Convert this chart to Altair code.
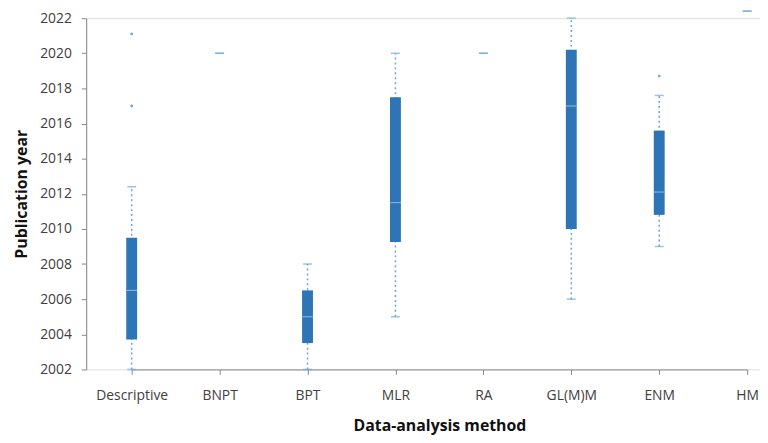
import altair as alt
import pandas as pd

methods = ["Descriptive", "BNPT", "BPT", "MLR", "RA", "GL(M)M", "ENM", "HM"]
whisker_low = [2002.0, 2020.0, 2002.0, 2005.0, 2020.0, 2006.0, 2009.0, 2022.4]
q1 = [2003.7, 2020.0, 2003.5, 2009.25, 2020.0, 2010.0, 2010.8, 2022.4]
median = [2006.5, 2020.0, 2005.0, 2011.5, 2020.0, 2017.0, 2012.1, 2022.4]
q3 = [2009.5, 2020.0, 2006.5, 2017.5, 2020.0, 2020.2, 2015.6, 2022.4]
whisker_high = [2012.4, 2020.0, 2008.0, 2020.0, 2020.0, 2022.0, 2017.6, 2022.4]

outlier_method = ["Descriptive", "Descriptive", "ENM"]
outlier_year = [2021.1, 2017.0, 2018.7]

df = pd.DataFrame({
    "method": methods, "lo": whisker_low, "q1": q1, "med": median,
    "q3": q3, "hi": whisker_high,
})
df["spread"] = df["hi"] - df["lo"]
odf = pd.DataFrame({"method": outlier_method, "year": outlier_year})

FONT = "Open Sans"
BOX = "#2E75B6"
LIGHT = "#6FA8DC"

xenc = alt.X(
    "method:N", sort=methods,
    scale=alt.Scale(type="point", domain=methods, range=[46, 668], padding=0),
    axis=alt.Axis(title="Data-analysis method", labelAngle=0, labelFontSize=14,
                  labelColor="#404040", labelFont=FONT, titleFont=FONT,
                  titleFontSize=16, titleFontWeight="bold", titleColor="#111",
                  titlePadding=16, labelPadding=14, tickSize=5,
                  domainColor="#888", tickColor="#888", grid=False),
)
yscale = alt.Scale(domain=[2002, 2022], nice=False, zero=False)
yaxis = alt.Axis(title="Publication year", values=list(range(2002, 2023, 2)),
                 format="d", labelFontSize=14, labelColor="#404040",
                 labelFont=FONT, titleFont=FONT, titleFontSize=16,
                 titleFontWeight="bold", titleColor="#111", titlePadding=10,
                 labelPadding=10, tickSize=5, domainColor="#888",
                 tickColor="#888", grid=False, labelOverlap=False)


def Y(field):
    return alt.Y(field, scale=yscale, axis=yaxis)


base = alt.Chart(df)
whisk = base.transform_filter("datum.spread > 0").mark_rule(
    color=LIGHT, strokeWidth=1.6, strokeDash=[2, 3]
).encode(x=xenc, y=Y("lo:Q"), y2="hi:Q")
box = base.transform_filter("datum.spread > 0").mark_bar(
    color=BOX, size=11
).encode(x=xenc, y=Y("q1:Q"), y2="q3:Q")
med = base.transform_filter("datum.spread > 0").mark_tick(
    color="#A9CBEA", size=11, thickness=1.2
).encode(x=xenc, y=Y("med:Q"))
cap_hi = base.mark_tick(color=LIGHT, size=9, thickness=1.5).encode(
    x=xenc, y=Y("hi:Q"))
cap_lo = base.mark_tick(color=LIGHT, size=9, thickness=1.5).encode(
    x=xenc, y=Y("lo:Q"))
outl = alt.Chart(odf).mark_point(
    shape="circle", size=8, filled=True, color=LIGHT, opacity=1
).encode(x=xenc, y=Y("year:Q"))

chart = alt.layer(whisk, box, med, cap_hi, cap_lo, outl).properties(
    width=681, height=355,
    autosize=alt.AutoSizeParams(type="none"),
    padding={"left": 79, "top": 8, "right": 0, "bottom": 64},
).configure_view(stroke=None).configure(background="white")

chart.save("out.html", embed_options={"renderer": "svg", "actions": False})
